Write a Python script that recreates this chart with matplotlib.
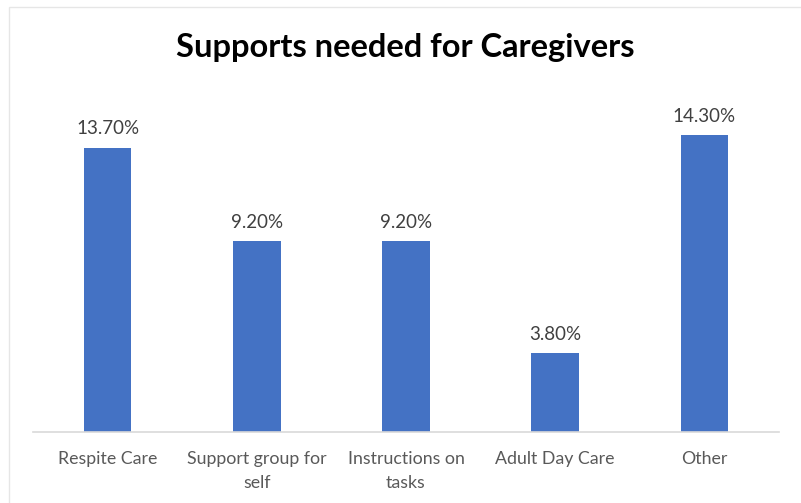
import matplotlib.pyplot as plt
from matplotlib.patches import Rectangle

categories = ["Respite Care", "Support group for\nself", "Instructions on\ntasks", "Adult Day Care", "Other"]
values = [13.7, 9.2, 9.2, 3.8, 14.3]

W, H = 801, 503
fig = plt.figure(figsize=(W / 100, H / 100), dpi=100)

# light frame of the screenshot
fig.patches.append(Rectangle((9 / W, -0.1), 1.2, (H - 7) / H + 0.1, transform=fig.transFigure,
                             fill=False, edgecolor="#e6e6e6", linewidth=1))

ax = fig.add_axes([33 / W, (H - 432) / H, (779 - 33) / W, (432 - 100) / H])
x = range(len(categories))
bars = ax.bar(x, values, width=0.32, color="#4472C4")
ax.set_xlim(-0.5, 4.5)
ax.set_ylim(0, 16)

for b, v in zip(bars, values):
    ax.text(b.get_x() + b.get_width() / 2, v + 0.5, f"{v:.2f}%", ha="center", va="bottom",
            fontsize=13.5, color="#404040", family="Lato")

for s in ["top", "right", "left"]:
    ax.spines[s].set_visible(False)
ax.spines["bottom"].set_color("#d9d9d9")
ax.spines["bottom"].set_linewidth(1.2)
ax.set_yticks([])
ax.set_xticks(list(x))
ax.set_xticklabels(categories, fontsize=12.8, color="#595959", family="Lato", linespacing=1.6)
ax.tick_params(axis="x", length=0, pad=14)

fig.text(405 / W, 1 - 48 / H, "Supports needed for Caregivers", ha="center", va="center",
         fontsize=23.5, fontweight="bold", family="Lato")

fig.savefig("out.png", dpi=100)
